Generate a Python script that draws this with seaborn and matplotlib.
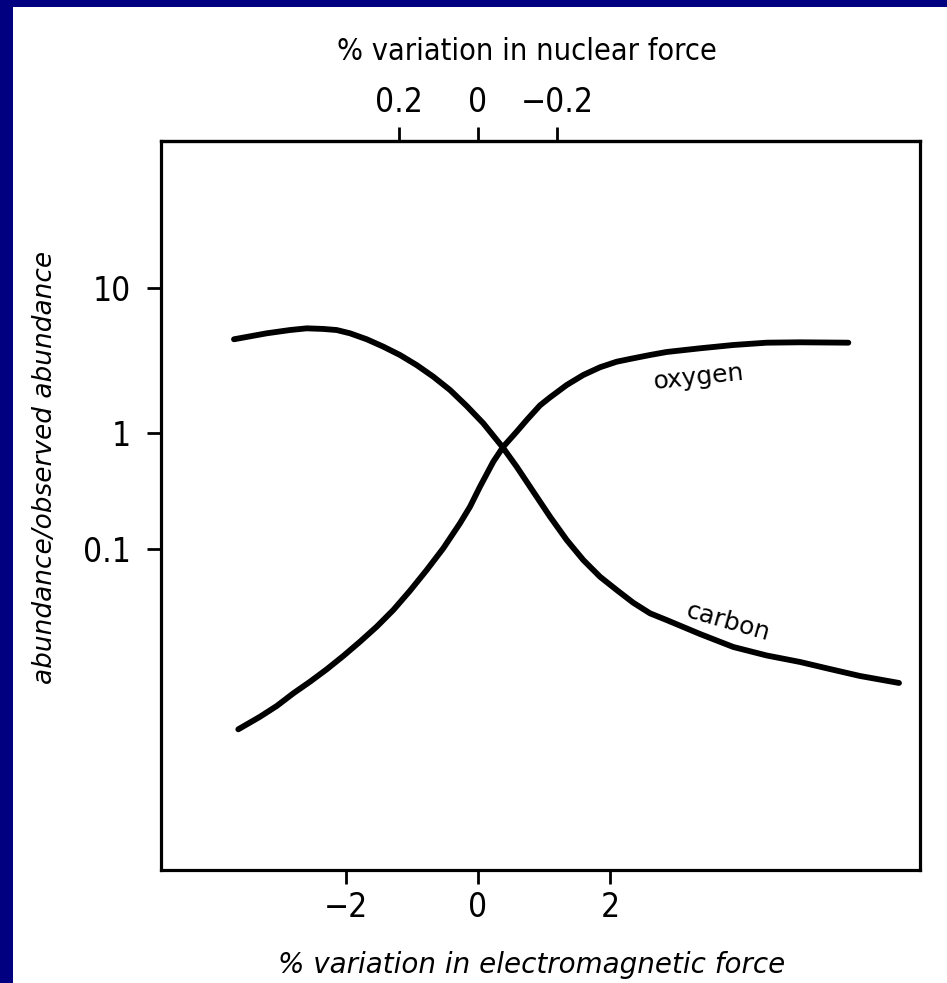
import numpy as np
import pandas as pd
import matplotlib
matplotlib.use("Agg")
import matplotlib.pyplot as plt
from matplotlib.patches import Rectangle
import seaborn as sns

# ---------------- data ----------------
carbon_x = [-3.697, -3.202, -2.848, -2.595, -2.344, -2.141, -1.939, -1.686, -1.435,
            -1.182, -0.929, -0.677, -0.424, -0.171, 0.080, 0.374, 0.586, 0.838,
            1.091, 1.344, 1.595, 1.848, 2.102, 2.353, 2.606, 2.859, 3.364, 3.868,
            4.374, 4.879, 5.283, 5.788, 6.379]
carbon_y = [4.43, 4.87, 5.13, 5.27, 5.22, 5.13, 4.87, 4.43, 3.94,
            3.45, 2.94, 2.445, 1.98, 1.535, 1.167, 0.753, 0.512, 0.312,
            0.190, 0.1196, 0.0804, 0.0577, 0.0443, 0.0344, 0.0279, 0.0244,
            0.0185, 0.0143, 0.01208, 0.01062, 0.00937, 0.00804, 0.00700]

oxygen_x = [-3.632, -3.303, -3.050, -2.798, -2.545, -2.292, -2.041, -1.788, -1.535,
            -1.283, -1.030, -0.777, -0.526, -0.273, -0.121, 0.030, 0.232, 0.383,
            0.586, 0.738, 0.939, 1.091, 1.344, 1.595, 1.848, 2.102, 2.353, 2.606,
            2.859, 3.364, 3.868, 4.374, 4.879, 5.611]
oxygen_y = [0.00279, 0.00358, 0.00443, 0.00570, 0.00718, 0.00918, 0.01196, 0.01588,
            0.0214, 0.0298, 0.0437, 0.0659, 0.1014, 0.1666, 0.2315, 0.3444, 0.566,
            0.762, 1.021, 1.229, 1.55, 1.76, 2.143, 2.512, 2.839, 3.103, 3.275,
            3.451, 3.620, 3.838, 4.045, 4.196, 4.222, 4.196]

em_ticks = [-2, 0, 2]
em_ticklabels = ["\u22122", "0", "2"]
nuc_ticks = [0.2, 0, -0.2]
nuc_ticklabels = ["0.2", "0", "\u22120.2"]
y_ticks = [0.1, 1, 10]
y_ticklabels = ["0.1", "1", "10"]

df = pd.concat([
    pd.DataFrame({"em": carbon_x, "abundance": carbon_y, "element": "carbon"}),
    pd.DataFrame({"em": oxygen_x, "abundance": oxygen_y, "element": "oxygen"}),
], ignore_index=True)

# ---------------- style ----------------
sns.set_style("white")
plt.rcParams["font.family"] = ["DejaVu Sans"]
plt.rcParams["font.stretch"] = "condensed"
plt.rcParams["text.color"] = "black"
plt.rcParams["axes.labelcolor"] = "black"

fig = plt.figure(figsize=(9.47, 9.83), dpi=100)
fig.patch.set_facecolor("white")
ax = fig.add_axes([161 / 947, 1 - 870 / 983, (920 - 161) / 947, (870 - 141) / 983])

# hand-drawn axis: decades are not equally spaced above/below 1
def fwd(y):
    v = np.log10(np.clip(y, 1e-300, None))
    return np.where(v >= 0, 1.25 * v, v)

def inv(u):
    u = np.asarray(u, dtype=float)
    return 10.0 ** np.where(u >= 0, u / 1.25, u)

ax.set_yscale("function", functions=(fwd, inv))

sns.lineplot(data=df, x="em", y="abundance", units="element", estimator=None,
             sort=False, color="black", linewidth=4.2, legend=False, ax=ax,
             solid_capstyle="round", solid_joinstyle="round")

ax.set_xlim(-4.803, 6.697)
ax.set_ylim(float(inv((433 - 870) / 116)), float(inv((433 - 141) / 116)))

ax.set_yticks(y_ticks)
ax.set_yticklabels(y_ticklabels)
ax.yaxis.set_minor_locator(matplotlib.ticker.NullLocator())
ax.set_xticks(em_ticks)
ax.set_xticklabels(em_ticklabels)

for s in ax.spines.values():
    s.set_visible(True)
    s.set_color("black")
    s.set_linewidth(2.3)

ax.tick_params(axis="both", which="major", direction="out", length=10, width=2.0,
               color="black", labelsize=24, labelcolor="black")
ax.tick_params(axis="x", bottom=True, top=False, pad=5)
ax.tick_params(axis="y", left=True, right=False, pad=12)

ax.set_xlabel("% variation in electromagnetic force", fontsize=20,
              style="italic", fontstretch="normal", color="black")
ax.xaxis.set_label_coords((532 - 161) / 759, (870 - 965) / 729)
ax.xaxis.label.set_va("center")
ax.set_ylabel("abundance/observed abundance", fontsize=19,
              style="italic", fontstretch="normal", color="black")
ax.yaxis.set_label_coords((45 - 161) / 759, (870 - 467) / 729)
ax.yaxis.label.set_va("center")

# top axis: nuclear force
sec = ax.secondary_xaxis("top", functions=(lambda x: -x / 6.0, lambda n: -n * 6.0))
sec.set_xticks(nuc_ticks)
sec.set_xticklabels(nuc_ticklabels)
sec.tick_params(axis="x", direction="out", length=10, width=2.0, color="black",
                labelsize=24, labelcolor="black", pad=6)
sec.spines["top"].set_linewidth(2.3)
sec.set_xlabel("% variation in nuclear force", fontsize=22, color="black")
sec.xaxis.set_label_coords((527 - 161) / 759, (870 - 52) / 729)
sec.xaxis.label.set_transform(ax.transAxes)
sec.xaxis.label.set_va("center")

# curve labels
ax.text(3.35, 2.44, "oxygen", fontsize=18, fontstretch="normal", rotation=6,
        ha="center", va="center", color="black")
ax.text(3.79, 0.0236, "carbon", fontsize=18, fontstretch="normal", rotation=-16,
        ha="center", va="center", color="black")

# navy slide frame
fig.patches.append(Rectangle((0, 0), 13 / 947, 1, transform=fig.transFigure,
                             facecolor="#000080", edgecolor="none", zorder=10))
fig.patches.append(Rectangle((0, 1 - 7 / 983), 1, 7 / 983, transform=fig.transFigure,
                             facecolor="#000080", edgecolor="none", zorder=10))

fig.savefig("out.png", dpi=100)
